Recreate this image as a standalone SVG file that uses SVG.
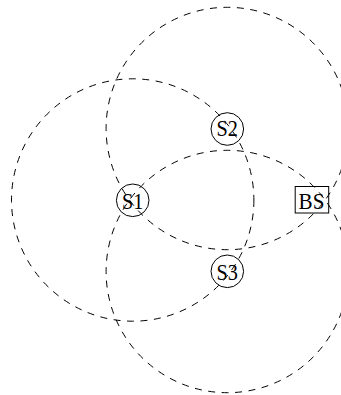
<svg xmlns="http://www.w3.org/2000/svg" width="341" height="395" viewBox="0 0 341 395">
<style>
.range{fill:none;stroke:#000;stroke-width:1;stroke-dasharray:7 6.5}
.node{fill:none;stroke:#000;stroke-width:1}
.lbl{font-family:"Liberation Serif","Times New Roman",serif;font-size:23px;fill:#000;text-anchor:middle}
</style>
<rect width="341" height="395" fill="#fff"/>
<g id="connectors">
<circle class="range" cx="132.7" cy="200" r="121.2"/>
<circle class="range" cx="227.3" cy="128.5" r="121.2"/>
<circle class="range" cx="227.3" cy="271.5" r="121.2"/>
</g>
<g id="S1">
<circle class="node" cx="132.7" cy="200.3" r="16.3"/>
<text class="lbl" transform="translate(132.7 209.3) scale(0.88 1)">S1</text>
</g>
<g id="S2">
<circle class="node" cx="227.3" cy="129" r="16.3"/>
<text class="lbl" transform="translate(227.3 136.3) scale(0.88 1)">S2</text>
</g>
<g id="S3">
<circle class="node" cx="227.3" cy="271.3" r="16.3"/>
<text class="lbl" transform="translate(227.3 279.8) scale(0.88 1)">S3</text>
</g>
<g id="BS">
<rect class="node" x="295.2" y="186.5" width="33.5" height="26.5"/>
<text class="lbl" transform="translate(311.5 208.7) scale(0.92 1)">BS</text>
</g>
</svg>
